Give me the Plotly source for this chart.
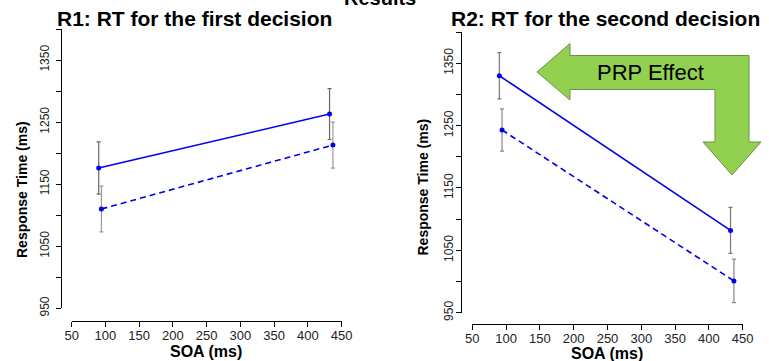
import plotly.graph_objects as go

# ---------------- data ----------------
soa_solid = [90, 432]
soa_dashed = [94, 437]

r1_solid = [1176, 1263]
r1_solid_err = [42, 41]
r1_dashed = [1110, 1213]
r1_dashed_err = [37, 37]

r2_solid = [1330, 1082]
r2_solid_err = [37, 37]
r2_dashed = [1243, 1001]
r2_dashed_err = [34, 35]

y_ticks = list(range(950, 1401, 50))
y_ticktext = [str(v) if v % 100 == 50 else "" for v in y_ticks]
x_ticks = list(range(50, 451, 50))

# ---------------- layout helpers ----------------
W, H = 769, 361
def fx(p):
    return p / W
def fy(p):
    return 1 - p / H

FONT = "Liberation Sans, Arial, sans-serif"
BLUE = "#0000ee"

fig = go.Figure()

def add_series(x, y, err, dash, xa, ya, barcol):
    fig.add_trace(go.Scatter(
        x=x, y=y, xaxis=xa, yaxis=ya, mode="lines+markers",
        line=dict(color=BLUE, width=1.6, dash=dash),
        marker=dict(color=BLUE, size=5, symbol="circle"),
        error_y=dict(type="data", array=err, color=barcol, thickness=1.2, width=2),
        showlegend=False,
    ))

add_series(soa_solid, r1_solid, r1_solid_err, "solid", "x", "y", "#666666")
add_series(soa_dashed, r1_dashed, r1_dashed_err, "6px,4px", "x", "y", "#9a9a9a")
add_series(soa_solid, r2_solid, r2_solid_err, "solid", "x2", "y2", "#777777")
add_series(soa_dashed, r2_dashed, r2_dashed_err, "6px,4px", "x2", "y2", "#888888")

def xaxis(dom, pos):
    return dict(domain=dom, range=[50, 450], anchor="free", position=pos,
                showline=True, linecolor="black", linewidth=1,
                ticks="outside", ticklen=5, tickcolor="black", tickwidth=1,
                tickvals=x_ticks, ticklabelstandoff=-3,
                tickfont=dict(family=FONT, size=13, color="#222"),
                showgrid=False, zeroline=False, automargin=False)

def yaxis(dom, pos, standoff):
    return dict(domain=dom, range=[950, 1400], anchor="free", position=pos,
                showline=True, linecolor="black", linewidth=1,
                ticks="outside", ticklen=5, tickcolor="black", tickwidth=1,
                tickvals=y_ticks, ticktext=y_ticktext, tickangle=-90,
                ticklabelstandoff=standoff,
                tickfont=dict(family=FONT, size=12, color="#222"),
                showgrid=False, zeroline=False, automargin=False)

fig.update_layout(
    width=W, height=H,
    margin=dict(l=0, r=0, t=0, b=0),
    paper_bgcolor="white", plot_bgcolor="white",
    xaxis=xaxis([fx(71.7), fx(341.7)], fy(321)),
    yaxis=yaxis([fy(308.3), fy(29.0)], fx(61), 2),
    xaxis2=xaxis([fx(472.3), fx(742.7)], fy(324.3)),
    yaxis2=yaxis([fy(312.7), fy(32.1)], fx(461), -2),
)

# arrow shape ("PRP Effect")
pts = [(537, 72), (570, 43.5), (570, 55.5), (749, 55.5), (749, 142), (761, 142),
       (732, 175), (703, 142), (715, 142), (715, 89.5), (570, 89.5), (570, 100)]
path = "M " + " L ".join(f"{fx(a):.5f},{fy(b):.5f}" for a, b in pts) + " Z"
fig.add_shape(type="path", path=path, xref="paper", yref="paper",
              fillcolor="#92d050", line=dict(color="#6f8f4a", width=1))

def ann(text, x, y, size, bold=True, angle=0, color="black"):
    fig.add_annotation(text=f"<b>{text}</b>" if bold else text,
                       x=fx(x), y=fy(y), xref="paper", yref="paper",
                       xanchor="center", yanchor="middle", showarrow=False,
                       textangle=angle,
                       font=dict(family=FONT, size=size, color=color))

ann("PRP Effect", 650, 72, 22, bold=False)
ann("Results", 380, -2, 20)
ann("R1: RT for the first decision", 194, 19, 21)
ann("R2: RT for the second decision", 605, 19, 21)
ann("SOA (ms)", 206, 351, 16)
ann("SOA (ms)", 607, 353, 16)
ann("Response Time (ms)", 22, 190, 14, angle=-90)
ann("Response Time (ms)", 422.5, 187, 14, angle=-90)

fig.write_html("out.html", config={"displayModeBar": False},
               post_script="document.body.style.margin='0';")
